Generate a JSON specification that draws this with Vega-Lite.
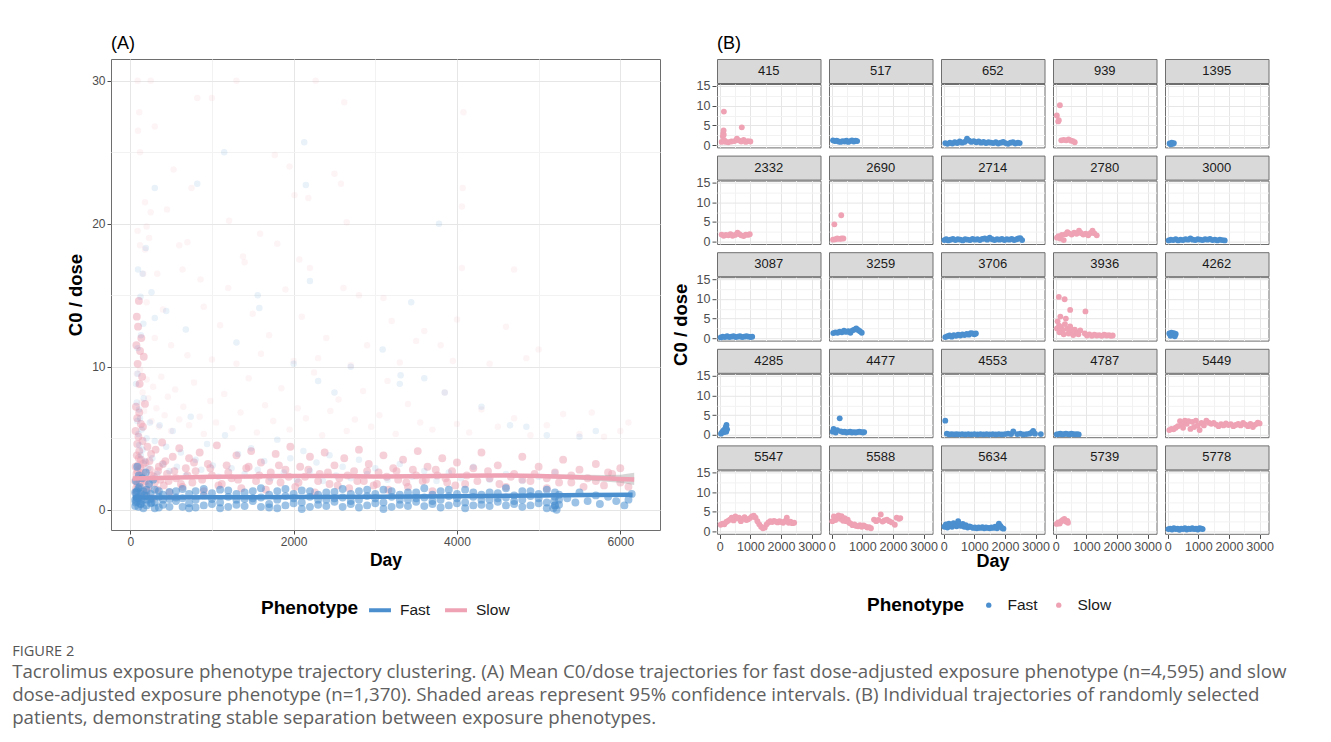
{
  "$schema": "https://vega.github.io/schema/vega-lite/v6.json",
  "background": "white",
  "padding": {"left": 12, "top": 34, "right": 5, "bottom": 5},
  "title": {
    "text": "FIGURE 2",
    "subtitle": [
      "Tacrolimus exposure phenotype trajectory clustering. (A) Mean C0/dose trajectories for fast dose-adjusted exposure phenotype (n=4,595) and slow",
      "dose-adjusted exposure phenotype (n=1,370). Shaded areas represent 95% confidence intervals. (B) Individual trajectories of randomly selected",
      "patients, demonstrating stable separation between exposure phenotypes."
    ],
    "orient": "bottom",
    "anchor": "start",
    "frame": "bounds",
    "dx": -54,
    "offset": 24,
    "font": "Open Sans",
    "fontSize": 14.6,
    "fontWeight": "normal",
    "color": "#555555",
    "subtitleFont": "Open Sans",
    "subtitleFontSize": 18.7,
    "subtitleColor": "#606060",
    "subtitleLineHeight": 23,
    "subtitlePadding": 5
  },
  "datasets": {
    "slowSparseA": [
      {"day":90,"c0dose":30},{"day":250,"c0dose":30},{"day":1300,"c0dose":30},{"day":2270,"c0dose":30},{"day":110,"c0dose":27.8},{"day":95,"c0dose":26.5},{"day":300,"c0dose":26.8},{"day":120,"c0dose":25},{"day":2620,"c0dose":28.5},{"day":820,"c0dose":28.8},{"day":1000,"c0dose":28.8},{"day":4080,"c0dose":27.8},{"day":1770,"c0dose":24.8},{"day":1950,"c0dose":24},{"day":2500,"c0dose":23.5},{"day":530,"c0dose":23.8},{"day":750,"c0dose":22.5},{"day":2580,"c0dose":22.8},{"day":4070,"c0dose":22.5},{"day":2010,"c0dose":22},{"day":2180,"c0dose":21.8},{"day":4060,"c0dose":21.2},{"day":180,"c0dose":21.5},{"day":250,"c0dose":20.8},{"day":450,"c0dose":21},{"day":1210,"c0dose":20.2},{"day":90,"c0dose":19.5},{"day":200,"c0dose":19.8},{"day":2650,"c0dose":20.1},{"day":1590,"c0dose":19.3},{"day":230,"c0dose":19},{"day":600,"c0dose":18.5},{"day":120,"c0dose":18.5},{"day":180,"c0dose":18.2},{"day":700,"c0dose":18.7},{"day":1800,"c0dose":18.6},{"day":1380,"c0dose":17.7},{"day":2070,"c0dose":17.5},{"day":1400,"c0dose":17.3},{"day":2200,"c0dose":16.9},{"day":4060,"c0dose":16.9},{"day":4700,"c0dose":16.8},{"day":160,"c0dose":16.5},{"day":330,"c0dose":16.5},{"day":640,"c0dose":16.8},{"day":860,"c0dose":16.1},{"day":2610,"c0dose":15.5},{"day":1200,"c0dose":15.5},{"day":1900,"c0dose":15.4},{"day":2800,"c0dose":15},{"day":3100,"c0dose":14.8},{"day":3200,"c0dose":13.2},{"day":200,"c0dose":14.5},{"day":400,"c0dose":14},{"day":900,"c0dose":14.2},{"day":1500,"c0dose":13.7},{"day":2100,"c0dose":13.5},{"day":3600,"c0dose":12.5},{"day":3500,"c0dose":11.8},{"day":4000,"c0dose":13.3},{"day":4600,"c0dose":12.8},{"day":1100,"c0dose":12.9},{"day":1700,"c0dose":12.2},{"day":2400,"c0dose":12},{"day":2900,"c0dose":11.5},{"day":3800,"c0dose":11.5},{"day":5000,"c0dose":11.2},{"day":300,"c0dose":12},{"day":500,"c0dose":11.5},{"day":700,"c0dose":10.8},{"day":1000,"c0dose":10.5},{"day":1300,"c0dose":10.2},{"day":1600,"c0dose":10.9},{"day":2000,"c0dose":10.4},{"day":2300,"c0dose":10.6},{"day":2700,"c0dose":10.1},{"day":3300,"c0dose":10.3},{"day":3950,"c0dose":10.4},{"day":4400,"c0dose":10.2},{"day":4850,"c0dose":10.6},
      {"day":80,"c0dose":9.5},{"day":100,"c0dose":8.7},{"day":120,"c0dose":9.8},{"day":140,"c0dose":7.5},{"day":150,"c0dose":8.2},{"day":170,"c0dose":6.9},{"day":200,"c0dose":9.1},{"day":220,"c0dose":7.8},{"day":260,"c0dose":6.2},{"day":280,"c0dose":8.6},{"day":320,"c0dose":7.1},{"day":350,"c0dose":5.8},{"day":380,"c0dose":9.3},{"day":420,"c0dose":6.6},{"day":460,"c0dose":7.9},{"day":500,"c0dose":5.5},{"day":550,"c0dose":8.4},{"day":600,"c0dose":6.3},{"day":650,"c0dose":7.2},{"day":720,"c0dose":5.9},{"day":780,"c0dose":8.9},{"day":850,"c0dose":6.5},{"day":900,"c0dose":5.3},{"day":980,"c0dose":7.6},{"day":1050,"c0dose":6.1},{"day":1150,"c0dose":8.1},{"day":1250,"c0dose":5.7},{"day":1350,"c0dose":6.8},{"day":1450,"c0dose":9.2},{"day":1550,"c0dose":5.4},{"day":1650,"c0dose":7.3},{"day":1750,"c0dose":6.2},{"day":1850,"c0dose":8.5},{"day":1950,"c0dose":5.6},{"day":2050,"c0dose":7.1},{"day":2150,"c0dose":6.4},{"day":2250,"c0dose":9.6},{"day":2350,"c0dose":5.2},{"day":2450,"c0dose":6.9},{"day":2550,"c0dose":7.7},{"day":2650,"c0dose":5.5},{"day":2750,"c0dose":6.3},{"day":2850,"c0dose":8.3},{"day":2950,"c0dose":5.8},{"day":3050,"c0dose":6.6},{"day":3150,"c0dose":9},{"day":3250,"c0dose":5.3},{"day":3400,"c0dose":7.4},{"day":3550,"c0dose":6.1},{"day":3700,"c0dose":5.6},{"day":3850,"c0dose":8.2},{"day":4000,"c0dose":6},{"day":4150,"c0dose":5.4},{"day":4300,"c0dose":7},{"day":4500,"c0dose":5.8},{"day":4700,"c0dose":6.4},{"day":4900,"c0dose":5.2},{"day":5100,"c0dose":5.9},{"day":5300,"c0dose":6.7},{"day":5500,"c0dose":5.3},{"day":5650,"c0dose":6.8},{"day":5800,"c0dose":5.1},{"day":6000,"c0dose":5.5},{"day":6100,"c0dose":6.1}
    ],
    "slowDenseA": [
      {"day":65,"c0dose":5.5},{"day":70,"c0dose":7.2},{"day":75,"c0dose":11.5},{"day":80,"c0dose":13.5},{"day":85,"c0dose":6.4},{"day":90,"c0dose":10.2},{"day":95,"c0dose":12.8},{"day":100,"c0dose":5.1},{"day":105,"c0dose":14.6},{"day":110,"c0dose":6.8},{"day":115,"c0dose":8.8},{"day":120,"c0dose":11.1},{"day":130,"c0dose":6.0},{"day":135,"c0dose":12.0},{"day":145,"c0dose":9.3},{"day":155,"c0dose":5.8},{"day":165,"c0dose":10.7},{"day":180,"c0dose":7.4},
      {"day":70,"c0dose":1.2},{"day":75,"c0dose":2.5},{"day":80,"c0dose":3.8},{"day":85,"c0dose":4.6},{"day":90,"c0dose":1.8},{"day":95,"c0dose":3.1},{"day":100,"c0dose":2.2},{"day":110,"c0dose":4.1},{"day":115,"c0dose":0.9},{"day":125,"c0dose":2.9},{"day":130,"c0dose":3.5},{"day":140,"c0dose":1.5},{"day":150,"c0dose":4.8},{"day":160,"c0dose":2.6},{"day":175,"c0dose":1.1},{"day":185,"c0dose":3.3},{"day":195,"c0dose":2.0},{"day":210,"c0dose":4.4},{"day":225,"c0dose":1.6},{"day":240,"c0dose":2.8},{"day":255,"c0dose":3.9},{"day":270,"c0dose":0.8},{"day":290,"c0dose":2.3},{"day":310,"c0dose":4.2},{"day":330,"c0dose":1.4},{"day":350,"c0dose":3.0},{"day":370,"c0dose":2.1},{"day":390,"c0dose":4.7},{"day":410,"c0dose":1.7},{"day":430,"c0dose":3.4},{"day":450,"c0dose":2.5},{"day":480,"c0dose":1.2},{"day":520,"c0dose":3.7},{"day":560,"c0dose":2.2},{"day":600,"c0dose":4.3},{"day":640,"c0dose":1.6},{"day":680,"c0dose":2.9},{"day":720,"c0dose":3.6},{"day":760,"c0dose":1.9},{"day":800,"c0dose":2.7},{"day":850,"c0dose":4.0},{"day":900,"c0dose":1.3},{"day":950,"c0dose":3.2},{"day":1000,"c0dose":2.4},{"day":1060,"c0dose":4.5},{"day":1120,"c0dose":1.8},{"day":1180,"c0dose":3.1},{"day":1240,"c0dose":2.2},{"day":1300,"c0dose":3.8},{"day":1360,"c0dose":1.5},{"day":1420,"c0dose":2.9},{"day":1480,"c0dose":4.1},{"day":1540,"c0dose":2.0},{"day":1600,"c0dose":3.3},{"day":1660,"c0dose":1.4},{"day":1720,"c0dose":2.6},{"day":1780,"c0dose":3.9},{"day":1840,"c0dose":1.9},{"day":1900,"c0dose":2.8},{"day":1960,"c0dose":4.4},{"day":2020,"c0dose":1.6},{"day":2080,"c0dose":3.0},{"day":2140,"c0dose":2.3},{"day":2200,"c0dose":3.7},{"day":2260,"c0dose":1.2},{"day":2320,"c0dose":2.5},{"day":2380,"c0dose":4.0},{"day":2440,"c0dose":1.8},{"day":2500,"c0dose":3.1},{"day":2560,"c0dose":2.2},{"day":2620,"c0dose":3.6},{"day":2680,"c0dose":1.5},{"day":2740,"c0dose":2.7},{"day":2800,"c0dose":4.2},{"day":2860,"c0dose":2.0},{"day":2920,"c0dose":3.2},{"day":2980,"c0dose":1.7},{"day":3040,"c0dose":2.6},{"day":3100,"c0dose":3.8},{"day":3160,"c0dose":1.4},{"day":3220,"c0dose":2.9},{"day":3280,"c0dose":2.1},{"day":3340,"c0dose":3.5},{"day":3400,"c0dose":1.6},{"day":3460,"c0dose":2.8},{"day":3520,"c0dose":4.1},{"day":3580,"c0dose":2.0},{"day":3640,"c0dose":3.0},{"day":3700,"c0dose":1.3},{"day":3760,"c0dose":2.4},{"day":3820,"c0dose":3.6},{"day":3880,"c0dose":1.9},{"day":3940,"c0dose":2.7},{"day":4000,"c0dose":3.3},{"day":4100,"c0dose":1.8},{"day":4200,"c0dose":2.9},{"day":4300,"c0dose":4.0},{"day":4400,"c0dose":2.2},{"day":4500,"c0dose":3.1},{"day":4600,"c0dose":1.6},{"day":4700,"c0dose":2.5},{"day":4800,"c0dose":3.7},{"day":4900,"c0dose":2.0},{"day":5000,"c0dose":3.0},{"day":5100,"c0dose":1.5},{"day":5200,"c0dose":2.6},{"day":5300,"c0dose":3.5},{"day":5400,"c0dose":1.9},{"day":5500,"c0dose":2.8},{"day":5600,"c0dose":2.2},{"day":5700,"c0dose":3.2},{"day":5800,"c0dose":1.7},{"day":5900,"c0dose":2.5},{"day":6000,"c0dose":2.9},{"day":6100,"c0dose":1.6},
      {"day":60,"c0dose":2.0},{"day":65,"c0dose":3.0},{"day":72,"c0dose":1.5},{"day":88,"c0dose":2.7},{"day":105,"c0dose":3.6},{"day":118,"c0dose":1.9},{"day":135,"c0dose":2.4},{"day":158,"c0dose":3.2},{"day":178,"c0dose":2.0},{"day":205,"c0dose":1.3},{"day":235,"c0dose":3.4},{"day":262,"c0dose":2.4},{"day":300,"c0dose":1.9},{"day":340,"c0dose":2.7},{"day":400,"c0dose":3.2},{"day":470,"c0dose":2.0},{"day":540,"c0dose":2.7},{"day":620,"c0dose":1.8},{"day":700,"c0dose":2.4},{"day":780,"c0dose":3.3},{"day":880,"c0dose":2.1},{"day":980,"c0dose":2.9},{"day":1080,"c0dose":1.7},{"day":1200,"c0dose":2.6},{"day":1320,"c0dose":2.1},{"day":1450,"c0dose":3.0},{"day":1580,"c0dose":2.4},{"day":1700,"c0dose":2.0},{"day":1820,"c0dose":3.1},{"day":1940,"c0dose":2.3},{"day":2060,"c0dose":1.9},{"day":2180,"c0dose":2.8},{"day":2300,"c0dose":2.0},{"day":2420,"c0dose":2.6},{"day":2540,"c0dose":1.7},{"day":2660,"c0dose":2.4},{"day":2780,"c0dose":2.0},{"day":2900,"c0dose":2.7},{"day":3020,"c0dose":1.8},{"day":3140,"c0dose":2.3},{"day":3260,"c0dose":2.7},{"day":3380,"c0dose":1.9},{"day":3500,"c0dose":2.4},{"day":3620,"c0dose":2.1},{"day":3740,"c0dose":2.8},{"day":3860,"c0dose":2.2},{"day":3980,"c0dose":1.7},{"day":4120,"c0dose":2.4},{"day":4250,"c0dose":2.0},{"day":4380,"c0dose":2.7},{"day":4520,"c0dose":1.8},{"day":4660,"c0dose":2.3},{"day":4800,"c0dose":2.1},{"day":4950,"c0dose":2.5},{"day":5100,"c0dose":2.2},{"day":5250,"c0dose":1.9},{"day":5400,"c0dose":2.4},{"day":5550,"c0dose":1.6},{"day":5700,"c0dose":2.0},{"day":5850,"c0dose":2.6},{"day":6000,"c0dose":1.9}
    ],
    "fastSparseA": [
      {"day":190,"c0dose":18.3},{"day":300,"c0dose":22.5},{"day":820,"c0dose":22.8},{"day":1150,"c0dose":25},{"day":2130,"c0dose":25.7},{"day":2150,"c0dose":22.7},{"day":3780,"c0dose":20},{"day":2200,"c0dose":16},{"day":95,"c0dose":16.8},{"day":125,"c0dose":14.9},{"day":150,"c0dose":16.5},{"day":260,"c0dose":15.2},{"day":1560,"c0dose":15},{"day":1580,"c0dose":14.1},{"day":3440,"c0dose":14.5},{"day":300,"c0dose":13.4},{"day":160,"c0dose":13.0},{"day":440,"c0dose":13.9},{"day":90,"c0dose":11.3},{"day":130,"c0dose":12.2},{"day":680,"c0dose":12.6},{"day":1300,"c0dose":11.7},{"day":3090,"c0dose":11.2},{"day":3310,"c0dose":9.4},{"day":2000,"c0dose":10.2},{"day":2300,"c0dose":9.0},{"day":2500,"c0dose":8.2},{"day":2700,"c0dose":10.0},{"day":3300,"c0dose":8.8},{"day":3600,"c0dose":9.2},{"day":3850,"c0dose":8.2},{"day":4300,"c0dose":7.2},{"day":4650,"c0dose":5.9},{"day":4850,"c0dose":5.8},{"day":5100,"c0dose":5.2},{"day":5500,"c0dose":5.1},{"day":5700,"c0dose":5.5},
      {"day":70,"c0dose":8.8},{"day":80,"c0dose":7.5},{"day":85,"c0dose":6.2},{"day":90,"c0dose":9.5},{"day":100,"c0dose":5.3},{"day":105,"c0dose":7.0},{"day":110,"c0dose":4.5},{"day":120,"c0dose":6.4},{"day":130,"c0dose":3.8},{"day":140,"c0dose":5.6},{"day":150,"c0dose":4.2},{"day":165,"c0dose":7.8},{"day":180,"c0dose":3.4},{"day":200,"c0dose":5.0},{"day":220,"c0dose":2.9},{"day":240,"c0dose":6.1},{"day":270,"c0dose":3.6},{"day":300,"c0dose":4.8},{"day":330,"c0dose":2.5},{"day":360,"c0dose":5.9},{"day":400,"c0dose":3.2},{"day":440,"c0dose":4.4},{"day":480,"c0dose":2.7},{"day":520,"c0dose":5.5},{"day":570,"c0dose":3.0},{"day":620,"c0dose":4.0},{"day":680,"c0dose":2.4},{"day":740,"c0dose":6.5},{"day":800,"c0dose":3.5},{"day":870,"c0dose":2.8},{"day":940,"c0dose":4.6},{"day":1010,"c0dose":3.1},{"day":1080,"c0dose":2.3},{"day":1160,"c0dose":5.2},{"day":1240,"c0dose":2.9},{"day":1320,"c0dose":3.9},{"day":1400,"c0dose":2.5},{"day":1480,"c0dose":4.3},{"day":1560,"c0dose":2.8},{"day":1640,"c0dose":3.4},{"day":1720,"c0dose":2.2},{"day":1800,"c0dose":4.9},{"day":1880,"c0dose":2.6},{"day":1960,"c0dose":3.6},{"day":2040,"c0dose":2.1},{"day":2120,"c0dose":4.1},{"day":2200,"c0dose":2.7},{"day":2280,"c0dose":3.3},{"day":2360,"c0dose":2.0},{"day":2440,"c0dose":3.8},{"day":2520,"c0dose":2.4},{"day":2600,"c0dose":3.0},{"day":2700,"c0dose":2.2},{"day":2800,"c0dose":3.5},{"day":2900,"c0dose":2.5},{"day":3000,"c0dose":2.9},{"day":3150,"c0dose":2.1},{"day":3300,"c0dose":3.2},{"day":3450,"c0dose":2.3},{"day":3600,"c0dose":2.7},{"day":3750,"c0dose":2.0},{"day":3900,"c0dose":2.6},{"day":4050,"c0dose":2.2},{"day":4200,"c0dose":3.0},{"day":4400,"c0dose":2.1},{"day":4600,"c0dose":2.5},{"day":4800,"c0dose":2.0},{"day":5000,"c0dose":2.3},{"day":5200,"c0dose":2.6}
    ],
    "fastDenseA": [
      {"day":60,"c0dose":0.25},{"day":60,"c0dose":1.2},{"day":60,"c0dose":0.7},{"day":80,"c0dose":0.55},{"day":80,"c0dose":0.8},{"day":80,"c0dose":1.3},{"day":100,"c0dose":0.85},{"day":100,"c0dose":1.5},{"day":100,"c0dose":0.2},{"day":130,"c0dose":0.4},{"day":130,"c0dose":0.6},{"day":130,"c0dose":1.1},{"day":160,"c0dose":0.7},{"day":160,"c0dose":1.3},{"day":160,"c0dose":0.1},{"day":200,"c0dose":0.3},{"day":200,"c0dose":0.95},{"day":200,"c0dose":1.4},{"day":250,"c0dose":1.1},{"day":250,"c0dose":0.45},{"day":250,"c0dose":0.75},{"day":300,"c0dose":0.5},{"day":300,"c0dose":1.4},{"day":300,"c0dose":0.1},{"day":350,"c0dose":0.9},{"day":350,"c0dose":0.15},{"day":350,"c0dose":1.3},{"day":400,"c0dose":0.35},{"day":400,"c0dose":1.05},{"day":400,"c0dose":0.7},{"day":480,"c0dose":0.2},{"day":480,"c0dose":1.25},{"day":480,"c0dose":0.75},{"day":560,"c0dose":0.6},{"day":560,"c0dose":0.85},{"day":560,"c0dose":1.3},{"day":640,"c0dose":0.8},{"day":640,"c0dose":1.45},{"day":640,"c0dose":0.2},{"day":720,"c0dose":0.45},{"day":720,"c0dose":0.1},{"day":720,"c0dose":1.1},{"day":800,"c0dose":0.7},{"day":800,"c0dose":1.3},{"day":800,"c0dose":0.15},{"day":900,"c0dose":0.3},{"day":900,"c0dose":1.0},{"day":900,"c0dose":1.45},{"day":1000,"c0dose":1.15},{"day":1000,"c0dose":0.4},{"day":1000,"c0dose":0.75},{"day":1100,"c0dose":0.5},{"day":1100,"c0dose":1.4},{"day":1100,"c0dose":0.1},{"day":1200,"c0dose":0.9},{"day":1200,"c0dose":0.2},{"day":1200,"c0dose":1.35},{"day":1300,"c0dose":0.35},{"day":1300,"c0dose":1.1},{"day":1300,"c0dose":0.7},{"day":1400,"c0dose":0.25},{"day":1400,"c0dose":1.2},{"day":1400,"c0dose":0.75},{"day":1500,"c0dose":0.6},{"day":1500,"c0dose":0.8},{"day":1500,"c0dose":1.3},{"day":1600,"c0dose":0.85},{"day":1600,"c0dose":1.5},{"day":1600,"c0dose":0.2},{"day":1700,"c0dose":0.4},{"day":1700,"c0dose":0.15},{"day":1700,"c0dose":1.05},{"day":1800,"c0dose":0.7},{"day":1800,"c0dose":1.3},{"day":1800,"c0dose":0.1},{"day":1900,"c0dose":0.3},{"day":1900,"c0dose":0.95},{"day":1900,"c0dose":1.45},{"day":2000,"c0dose":1.1},{"day":2000,"c0dose":0.45},{"day":2000,"c0dose":0.8},{"day":2100,"c0dose":0.5},{"day":2100,"c0dose":1.35},{"day":2100,"c0dose":0.05},{"day":2200,"c0dose":0.9},{"day":2200,"c0dose":0.2},{"day":2200,"c0dose":1.3},{"day":2300,"c0dose":0.35},{"day":2300,"c0dose":1.05},{"day":2300,"c0dose":0.7},{"day":2400,"c0dose":0.25},{"day":2400,"c0dose":1.2},{"day":2400,"c0dose":0.7},{"day":2500,"c0dose":0.55},{"day":2500,"c0dose":0.8},{"day":2500,"c0dose":1.25},{"day":2600,"c0dose":0.85},{"day":2600,"c0dose":1.45},{"day":2600,"c0dose":0.2},{"day":2700,"c0dose":0.4},{"day":2700,"c0dose":0.6},{"day":2700,"c0dose":1.1},{"day":2800,"c0dose":0.7},{"day":2800,"c0dose":1.3},{"day":2800,"c0dose":0.15},{"day":2900,"c0dose":0.3},{"day":2900,"c0dose":0.95},{"day":2900,"c0dose":1.4},{"day":3000,"c0dose":1.1},{"day":3000,"c0dose":0.45},{"day":3000,"c0dose":0.8},{"day":3100,"c0dose":0.5},{"day":3100,"c0dose":1.4},{"day":3100,"c0dose":0.05},{"day":3200,"c0dose":0.9},{"day":3200,"c0dose":0.2},{"day":3200,"c0dose":1.3},{"day":3300,"c0dose":0.35},{"day":3300,"c0dose":1.05},{"day":3300,"c0dose":0.7},{"day":3400,"c0dose":0.25},{"day":3400,"c0dose":1.2},{"day":3400,"c0dose":0.7},{"day":3500,"c0dose":0.55},{"day":3500,"c0dose":0.8},{"day":3500,"c0dose":1.2},{"day":3600,"c0dose":0.85},{"day":3600,"c0dose":1.5},{"day":3600,"c0dose":0.25},{"day":3700,"c0dose":0.4},{"day":3700,"c0dose":0.6},{"day":3700,"c0dose":1.05},{"day":3800,"c0dose":0.7},{"day":3800,"c0dose":1.3},{"day":3800,"c0dose":0.15},{"day":3900,"c0dose":0.3},{"day":3900,"c0dose":0.95},{"day":3900,"c0dose":1.4},{"day":4000,"c0dose":1.1},{"day":4000,"c0dose":0.45},{"day":4000,"c0dose":0.8},{"day":4100,"c0dose":0.5},{"day":4100,"c0dose":1.4},{"day":4100,"c0dose":0.1},{"day":4200,"c0dose":0.9},{"day":4200,"c0dose":0.3},{"day":4200,"c0dose":1.2},{"day":4300,"c0dose":0.35},{"day":4300,"c0dose":1.05},{"day":4300,"c0dose":0.7},{"day":4400,"c0dose":0.25},{"day":4400,"c0dose":1.2},{"day":4400,"c0dose":0.7},{"day":4500,"c0dose":0.55},{"day":4500,"c0dose":0.8},{"day":4500,"c0dose":1.15},{"day":4600,"c0dose":0.85},{"day":4600,"c0dose":1.5},{"day":4600,"c0dose":0.3},{"day":4700,"c0dose":0.4},{"day":4700,"c0dose":0.6},{"day":4700,"c0dose":1.0},{"day":4800,"c0dose":0.7},{"day":4800,"c0dose":1.3},{"day":4800,"c0dose":0.2},{"day":4900,"c0dose":0.3},{"day":4900,"c0dose":0.95},{"day":4900,"c0dose":1.3},{"day":5000,"c0dose":1.1},{"day":5000,"c0dose":0.45},{"day":5000,"c0dose":0.8},{"day":5100,"c0dose":0.5},{"day":5100,"c0dose":1.4},{"day":5100,"c0dose":0.1},{"day":5200,"c0dose":0.9},{"day":5200,"c0dose":0.3},{"day":5200,"c0dose":1.2},{"day":5250,"c0dose":0.35},{"day":5250,"c0dose":1.05},{"day":5250,"c0dose":0.7},
      {"day":5350,"c0dose":0.8},{"day":5450,"c0dose":0.5},{"day":5500,"c0dose":1.2},{"day":5600,"c0dose":0.6},{"day":5700,"c0dose":1.0},{"day":5750,"c0dose":0.4},{"day":5850,"c0dose":0.9},{"day":5950,"c0dose":0.6},{"day":6050,"c0dose":0.3},{"day":6100,"c0dose":0.7},{"day":6140,"c0dose":1.1},{"day":5180,"c0dose":0.1},{"day":5200,"c0dose":0.3},{"day":5220,"c0dose":0.0},{"day":5190,"c0dose":0.6},
      {"day":65,"c0dose":0.5},{"day":70,"c0dose":2.0},{"day":75,"c0dose":1.2},{"day":85,"c0dose":3.0},{"day":95,"c0dose":0.8},{"day":105,"c0dose":2.4},{"day":115,"c0dose":1.6},{"day":125,"c0dose":0.4},{"day":145,"c0dose":2.2},{"day":170,"c0dose":1.0},{"day":190,"c0dose":2.6},{"day":210,"c0dose":0.7},{"day":230,"c0dose":1.8},{"day":260,"c0dose":0.5},{"day":280,"c0dose":2.1}
    ],
    "smoothA": [
      {"phenotype":"Slow","day":30,"fit":2.18,"lo":2.06,"hi":2.3},
      {"phenotype":"Slow","day":300,"fit":2.22,"lo":2.14,"hi":2.3},
      {"phenotype":"Slow","day":600,"fit":2.26,"lo":2.2,"hi":2.32},
      {"phenotype":"Slow","day":1000,"fit":2.3,"lo":2.24,"hi":2.36},
      {"phenotype":"Slow","day":1500,"fit":2.33,"lo":2.27,"hi":2.39},
      {"phenotype":"Slow","day":2000,"fit":2.36,"lo":2.3,"hi":2.42},
      {"phenotype":"Slow","day":2500,"fit":2.35,"lo":2.29,"hi":2.41},
      {"phenotype":"Slow","day":3000,"fit":2.32,"lo":2.26,"hi":2.38},
      {"phenotype":"Slow","day":3500,"fit":2.34,"lo":2.27,"hi":2.41},
      {"phenotype":"Slow","day":4000,"fit":2.38,"lo":2.3,"hi":2.46},
      {"phenotype":"Slow","day":4500,"fit":2.4,"lo":2.3,"hi":2.5},
      {"phenotype":"Slow","day":5000,"fit":2.36,"lo":2.24,"hi":2.48},
      {"phenotype":"Slow","day":5500,"fit":2.27,"lo":2.1,"hi":2.44},
      {"phenotype":"Slow","day":5800,"fit":2.2,"lo":1.98,"hi":2.42},
      {"phenotype":"Slow","day":6000,"fit":2.15,"lo":1.88,"hi":2.45},
      {"phenotype":"Slow","day":6170,"fit":2.12,"lo":1.72,"hi":2.58},
      {"phenotype":"Fast","day":30,"fit":0.86,"lo":0.82,"hi":0.9},
      {"phenotype":"Fast","day":1000,"fit":0.87,"lo":0.84,"hi":0.9},
      {"phenotype":"Fast","day":2000,"fit":0.88,"lo":0.85,"hi":0.91},
      {"phenotype":"Fast","day":3000,"fit":0.9,"lo":0.87,"hi":0.93},
      {"phenotype":"Fast","day":4000,"fit":0.94,"lo":0.9,"hi":0.98},
      {"phenotype":"Fast","day":5000,"fit":1.0,"lo":0.95,"hi":1.05},
      {"phenotype":"Fast","day":5600,"fit":1.03,"lo":0.96,"hi":1.1},
      {"phenotype":"Fast","day":6150,"fit":1.05,"lo":0.95,"hi":1.15}
    ],
    "phenotypes": [
      {"patient":415,"phenotype":"Slow"},{"patient":517,"phenotype":"Fast"},{"patient":652,"phenotype":"Fast"},{"patient":939,"phenotype":"Slow"},{"patient":1395,"phenotype":"Fast"},
      {"patient":2332,"phenotype":"Slow"},{"patient":2690,"phenotype":"Slow"},{"patient":2714,"phenotype":"Fast"},{"patient":2780,"phenotype":"Slow"},{"patient":3000,"phenotype":"Fast"},
      {"patient":3087,"phenotype":"Fast"},{"patient":3259,"phenotype":"Fast"},{"patient":3706,"phenotype":"Fast"},{"patient":3936,"phenotype":"Slow"},{"patient":4262,"phenotype":"Fast"},
      {"patient":4285,"phenotype":"Fast"},{"patient":4477,"phenotype":"Fast"},{"patient":4553,"phenotype":"Fast"},{"patient":4787,"phenotype":"Fast"},{"patient":5449,"phenotype":"Slow"},
      {"patient":5547,"phenotype":"Slow"},{"patient":5588,"phenotype":"Slow"},{"patient":5634,"phenotype":"Fast"},{"patient":5739,"phenotype":"Slow"},{"patient":5778,"phenotype":"Fast"}
    ],
    "pointsB": [
      {"patient":415,"day":60,"c0dose":0.8},{"patient":415,"day":100,"c0dose":2.2},{"patient":415,"day":115,"c0dose":3.0},{"patient":415,"day":125,"c0dose":3.7},{"patient":415,"day":130,"c0dose":2.6},{"patient":415,"day":135,"c0dose":8.5},{"patient":415,"day":150,"c0dose":1.2},{"patient":415,"day":200,"c0dose":0.8},{"patient":415,"day":280,"c0dose":0.7},{"patient":415,"day":380,"c0dose":0.9},{"patient":415,"day":480,"c0dose":1.0},{"patient":415,"day":560,"c0dose":1.6},{"patient":415,"day":620,"c0dose":1.2},{"patient":415,"day":720,"c0dose":4.5},{"patient":415,"day":700,"c0dose":0.9},{"patient":415,"day":780,"c0dose":1.3},{"patient":415,"day":850,"c0dose":0.8},{"patient":415,"day":920,"c0dose":1.0},{"patient":415,"day":1000,"c0dose":0.9},
      {"patient":517,"day":40,"c0dose":1.2},{"patient":517,"day":100,"c0dose":1.0},{"patient":517,"day":160,"c0dose":1.1},{"patient":517,"day":220,"c0dose":0.9},{"patient":517,"day":290,"c0dose":0.8},{"patient":517,"day":350,"c0dose":1.0},{"patient":517,"day":420,"c0dose":0.9},{"patient":517,"day":480,"c0dose":1.1},{"patient":517,"day":540,"c0dose":0.8},{"patient":517,"day":600,"c0dose":1.0},{"patient":517,"day":660,"c0dose":1.2},{"patient":517,"day":720,"c0dose":0.9},{"patient":517,"day":780,"c0dose":1.1},{"patient":517,"day":830,"c0dose":1.0},
      {"patient":652,"day":50,"c0dose":0.5},{"patient":652,"day":120,"c0dose":0.3},{"patient":652,"day":200,"c0dose":0.6},{"patient":652,"day":280,"c0dose":0.4},{"patient":652,"day":360,"c0dose":0.7},{"patient":652,"day":440,"c0dose":0.5},{"patient":652,"day":520,"c0dose":0.9},{"patient":652,"day":600,"c0dose":0.6},{"patient":652,"day":680,"c0dose":0.8},{"patient":652,"day":760,"c0dose":1.6},{"patient":652,"day":830,"c0dose":1.1},{"patient":652,"day":900,"c0dose":0.8},{"patient":652,"day":980,"c0dose":1.0},{"patient":652,"day":1060,"c0dose":0.7},{"patient":652,"day":1140,"c0dose":0.9},{"patient":652,"day":1220,"c0dose":0.6},{"patient":652,"day":1300,"c0dose":0.8},{"patient":652,"day":1380,"c0dose":0.5},{"patient":652,"day":1460,"c0dose":0.7},{"patient":652,"day":1540,"c0dose":0.6},{"patient":652,"day":1620,"c0dose":0.5},{"patient":652,"day":1700,"c0dose":0.7},{"patient":652,"day":1780,"c0dose":0.4},{"patient":652,"day":1860,"c0dose":0.6},{"patient":652,"day":1940,"c0dose":0.8},{"patient":652,"day":2020,"c0dose":0.5},{"patient":652,"day":2100,"c0dose":0.3},{"patient":652,"day":2180,"c0dose":0.6},{"patient":652,"day":2260,"c0dose":0.7},{"patient":652,"day":2340,"c0dose":0.4},{"patient":652,"day":2420,"c0dose":0.6},{"patient":652,"day":2480,"c0dose":0.5},
      {"patient":939,"day":35,"c0dose":7.5},{"patient":939,"day":80,"c0dose":6.0},{"patient":939,"day":100,"c0dose":6.3},{"patient":939,"day":135,"c0dose":10.1},{"patient":939,"day":180,"c0dose":1.2},{"patient":939,"day":260,"c0dose":1.3},{"patient":939,"day":340,"c0dose":1.2},{"patient":939,"day":420,"c0dose":1.4},{"patient":939,"day":500,"c0dose":1.1},{"patient":939,"day":560,"c0dose":1.0},{"patient":939,"day":620,"c0dose":0.7},
      {"patient":1395,"day":60,"c0dose":0.4},{"patient":1395,"day":100,"c0dose":0.2},{"patient":1395,"day":130,"c0dose":0.6},{"patient":1395,"day":170,"c0dose":0.3},{"patient":1395,"day":200,"c0dose":0.5},
      {"patient":2332,"day":60,"c0dose":1.8},{"patient":2332,"day":130,"c0dose":1.5},{"patient":2332,"day":200,"c0dose":1.7},{"patient":2332,"day":280,"c0dose":1.6},{"patient":2332,"day":350,"c0dose":1.9},{"patient":2332,"day":420,"c0dose":1.5},{"patient":2332,"day":500,"c0dose":1.7},{"patient":2332,"day":580,"c0dose":2.3},{"patient":2332,"day":640,"c0dose":1.9},{"patient":2332,"day":700,"c0dose":1.6},{"patient":2332,"day":780,"c0dose":1.4},{"patient":2332,"day":850,"c0dose":1.8},{"patient":2332,"day":920,"c0dose":1.7},{"patient":2332,"day":980,"c0dose":1.9},
      {"patient":2690,"day":40,"c0dose":0.5},{"patient":2690,"day":85,"c0dose":4.4},{"patient":2690,"day":120,"c0dose":0.6},{"patient":2690,"day":180,"c0dose":0.8},{"patient":2690,"day":310,"c0dose":6.7},{"patient":2690,"day":260,"c0dose":0.7},{"patient":2690,"day":320,"c0dose":0.8},{"patient":2690,"day":380,"c0dose":0.8},
      {"patient":2714,"day":20,"c0dose":0.4},{"patient":2714,"day":80,"c0dose":0.6},{"patient":2714,"day":150,"c0dose":0.3},{"patient":2714,"day":220,"c0dose":0.5},{"patient":2714,"day":300,"c0dose":0.7},{"patient":2714,"day":380,"c0dose":0.4},{"patient":2714,"day":460,"c0dose":0.6},{"patient":2714,"day":540,"c0dose":0.5},{"patient":2714,"day":620,"c0dose":0.3},{"patient":2714,"day":700,"c0dose":0.6},{"patient":2714,"day":780,"c0dose":0.5},{"patient":2714,"day":860,"c0dose":0.4},{"patient":2714,"day":940,"c0dose":0.7},{"patient":2714,"day":1020,"c0dose":0.5},{"patient":2714,"day":1100,"c0dose":0.6},{"patient":2714,"day":1180,"c0dose":0.4},{"patient":2714,"day":1260,"c0dose":0.7},{"patient":2714,"day":1340,"c0dose":0.8},{"patient":2714,"day":1420,"c0dose":0.5},{"patient":2714,"day":1500,"c0dose":1.0},{"patient":2714,"day":1580,"c0dose":0.6},{"patient":2714,"day":1660,"c0dose":0.4},{"patient":2714,"day":1740,"c0dose":0.6},{"patient":2714,"day":1820,"c0dose":0.5},{"patient":2714,"day":1900,"c0dose":0.7},{"patient":2714,"day":1980,"c0dose":0.4},{"patient":2714,"day":2060,"c0dose":0.6},{"patient":2714,"day":2140,"c0dose":0.5},{"patient":2714,"day":2220,"c0dose":0.7},{"patient":2714,"day":2300,"c0dose":0.4},{"patient":2714,"day":2380,"c0dose":0.6},{"patient":2714,"day":2440,"c0dose":0.8},{"patient":2714,"day":2500,"c0dose":0.9},{"patient":2714,"day":2560,"c0dose":0.4},
      {"patient":2780,"day":40,"c0dose":1.0},{"patient":2780,"day":90,"c0dose":1.4},{"patient":2780,"day":140,"c0dose":0.8},{"patient":2780,"day":200,"c0dose":1.7},{"patient":2780,"day":260,"c0dose":0.4},{"patient":2780,"day":320,"c0dose":1.9},{"patient":2780,"day":380,"c0dose":2.4},{"patient":2780,"day":440,"c0dose":2.1},{"patient":2780,"day":520,"c0dose":1.8},{"patient":2780,"day":600,"c0dose":2.3},{"patient":2780,"day":680,"c0dose":2.0},{"patient":2780,"day":760,"c0dose":2.8},{"patient":2780,"day":820,"c0dose":2.2},{"patient":2780,"day":900,"c0dose":1.8},{"patient":2780,"day":980,"c0dose":2.0},{"patient":2780,"day":1060,"c0dose":1.6},{"patient":2780,"day":1140,"c0dose":2.2},{"patient":2780,"day":1200,"c0dose":2.8},{"patient":2780,"day":1260,"c0dose":2.1},{"patient":2780,"day":1340,"c0dose":1.6},
      {"patient":3000,"day":30,"c0dose":0.3},{"patient":3000,"day":100,"c0dose":0.5},{"patient":3000,"day":180,"c0dose":0.4},{"patient":3000,"day":260,"c0dose":0.6},{"patient":3000,"day":340,"c0dose":0.3},{"patient":3000,"day":420,"c0dose":0.5},{"patient":3000,"day":500,"c0dose":0.4},{"patient":3000,"day":580,"c0dose":0.6},{"patient":3000,"day":660,"c0dose":0.5},{"patient":3000,"day":740,"c0dose":0.8},{"patient":3000,"day":820,"c0dose":0.5},{"patient":3000,"day":900,"c0dose":0.4},{"patient":3000,"day":980,"c0dose":0.6},{"patient":3000,"day":1060,"c0dose":0.5},{"patient":3000,"day":1140,"c0dose":0.4},{"patient":3000,"day":1220,"c0dose":0.6},{"patient":3000,"day":1300,"c0dose":0.5},{"patient":3000,"day":1380,"c0dose":0.7},{"patient":3000,"day":1460,"c0dose":0.4},{"patient":3000,"day":1540,"c0dose":0.5},{"patient":3000,"day":1620,"c0dose":0.3},{"patient":3000,"day":1700,"c0dose":0.5},{"patient":3000,"day":1780,"c0dose":0.4},{"patient":3000,"day":1860,"c0dose":0.3},
      {"patient":3087,"day":30,"c0dose":0.2},{"patient":3087,"day":100,"c0dose":0.4},{"patient":3087,"day":170,"c0dose":0.3},{"patient":3087,"day":240,"c0dose":0.5},{"patient":3087,"day":310,"c0dose":0.3},{"patient":3087,"day":380,"c0dose":0.4},{"patient":3087,"day":450,"c0dose":0.5},{"patient":3087,"day":520,"c0dose":0.3},{"patient":3087,"day":590,"c0dose":0.4},{"patient":3087,"day":660,"c0dose":0.5},{"patient":3087,"day":730,"c0dose":0.3},{"patient":3087,"day":800,"c0dose":0.4},{"patient":3087,"day":870,"c0dose":0.5},{"patient":3087,"day":940,"c0dose":0.4},{"patient":3087,"day":1010,"c0dose":0.3},{"patient":3087,"day":1060,"c0dose":0.4},
      {"patient":3259,"day":50,"c0dose":1.3},{"patient":3259,"day":120,"c0dose":1.5},{"patient":3259,"day":190,"c0dose":1.4},{"patient":3259,"day":260,"c0dose":1.7},{"patient":3259,"day":330,"c0dose":1.5},{"patient":3259,"day":400,"c0dose":1.9},{"patient":3259,"day":470,"c0dose":1.6},{"patient":3259,"day":540,"c0dose":1.8},{"patient":3259,"day":610,"c0dose":1.4},{"patient":3259,"day":680,"c0dose":2.0},{"patient":3259,"day":740,"c0dose":2.2},{"patient":3259,"day":800,"c0dose":2.5},{"patient":3259,"day":860,"c0dose":2.1},{"patient":3259,"day":920,"c0dose":1.8},{"patient":3259,"day":980,"c0dose":1.4},
      {"patient":3706,"day":50,"c0dose":0.3},{"patient":3706,"day":120,"c0dose":0.5},{"patient":3706,"day":190,"c0dose":0.7},{"patient":3706,"day":260,"c0dose":0.4},{"patient":3706,"day":330,"c0dose":0.8},{"patient":3706,"day":400,"c0dose":0.6},{"patient":3706,"day":470,"c0dose":0.9},{"patient":3706,"day":540,"c0dose":0.7},{"patient":3706,"day":610,"c0dose":1.0},{"patient":3706,"day":680,"c0dose":0.8},{"patient":3706,"day":750,"c0dose":1.1},{"patient":3706,"day":820,"c0dose":0.9},{"patient":3706,"day":880,"c0dose":1.3},{"patient":3706,"day":940,"c0dose":1.2},{"patient":3706,"day":1000,"c0dose":1.0},{"patient":3706,"day":1050,"c0dose":1.2},
      {"patient":3936,"day":40,"c0dose":2.5},{"patient":3936,"day":60,"c0dose":4.3},{"patient":3936,"day":100,"c0dose":10.5},{"patient":3936,"day":110,"c0dose":3.2},{"patient":3936,"day":120,"c0dose":1.5},{"patient":3936,"day":150,"c0dose":5.5},{"patient":3936,"day":170,"c0dose":2.8},{"patient":3936,"day":290,"c0dose":9.9},{"patient":3936,"day":330,"c0dose":5.0},{"patient":3936,"day":230,"c0dose":2.1},{"patient":3936,"day":260,"c0dose":1.0},{"patient":3936,"day":300,"c0dose":3.6},{"patient":3936,"day":470,"c0dose":7.2},{"patient":3936,"day":380,"c0dose":2.4},{"patient":3936,"day":420,"c0dose":1.2},{"patient":3936,"day":470,"c0dose":3.0},{"patient":3936,"day":520,"c0dose":2.0},{"patient":3936,"day":570,"c0dose":0.8},{"patient":3936,"day":620,"c0dose":2.2},{"patient":3936,"day":680,"c0dose":1.5},{"patient":3936,"day":740,"c0dose":1.0},{"patient":3936,"day":800,"c0dose":2.0},{"patient":3936,"day":970,"c0dose":6.8},{"patient":3936,"day":950,"c0dose":1.2},{"patient":3936,"day":1020,"c0dose":0.7},{"patient":3936,"day":1100,"c0dose":1.0},{"patient":3936,"day":1180,"c0dose":0.6},{"patient":3936,"day":1260,"c0dose":0.9},{"patient":3936,"day":1340,"c0dose":0.7},{"patient":3936,"day":1420,"c0dose":0.8},{"patient":3936,"day":1500,"c0dose":0.6},{"patient":3936,"day":1580,"c0dose":0.9},{"patient":3936,"day":1660,"c0dose":0.7},{"patient":3936,"day":1740,"c0dose":0.8},{"patient":3936,"day":1800,"c0dose":0.6},{"patient":3936,"day":1860,"c0dose":0.7},
      {"patient":4262,"day":50,"c0dose":1.2},{"patient":4262,"day":90,"c0dose":0.6},{"patient":4262,"day":120,"c0dose":1.4},{"patient":4262,"day":160,"c0dose":0.9},{"patient":4262,"day":200,"c0dose":1.3},{"patient":4262,"day":230,"c0dose":0.5},{"patient":4262,"day":260,"c0dose":1.1},
      {"patient":4285,"day":40,"c0dose":0.3},{"patient":4285,"day":70,"c0dose":0.6},{"patient":4285,"day":100,"c0dose":0.9},{"patient":4285,"day":130,"c0dose":1.2},{"patient":4285,"day":150,"c0dose":0.7},{"patient":4285,"day":180,"c0dose":1.6},{"patient":4285,"day":200,"c0dose":2.0},{"patient":4285,"day":220,"c0dose":2.5},{"patient":4285,"day":240,"c0dose":1.4},{"patient":4285,"day":210,"c0dose":0.8},
      {"patient":4477,"day":30,"c0dose":0.8},{"patient":4477,"day":60,"c0dose":1.5},{"patient":4477,"day":90,"c0dose":1.0},{"patient":4477,"day":130,"c0dose":0.6},{"patient":4477,"day":180,"c0dose":1.2},{"patient":4477,"day":260,"c0dose":4.2},{"patient":4477,"day":300,"c0dose":0.9},{"patient":4477,"day":360,"c0dose":0.7},{"patient":4477,"day":420,"c0dose":0.8},{"patient":4477,"day":480,"c0dose":0.6},{"patient":4477,"day":540,"c0dose":0.7},{"patient":4477,"day":600,"c0dose":0.8},{"patient":4477,"day":660,"c0dose":0.6},{"patient":4477,"day":720,"c0dose":0.7},{"patient":4477,"day":780,"c0dose":0.6},{"patient":4477,"day":840,"c0dose":0.7},{"patient":4477,"day":900,"c0dose":0.8},{"patient":4477,"day":960,"c0dose":0.7},{"patient":4477,"day":1020,"c0dose":0.6},{"patient":4477,"day":1060,"c0dose":0.7},
      {"patient":4553,"day":50,"c0dose":3.6},{"patient":4553,"day":100,"c0dose":0.3},{"patient":4553,"day":180,"c0dose":0.1},{"patient":4553,"day":260,"c0dose":0.2},{"patient":4553,"day":340,"c0dose":0.1},{"patient":4553,"day":420,"c0dose":0.2},{"patient":4553,"day":500,"c0dose":0.1},{"patient":4553,"day":600,"c0dose":0.2},{"patient":4553,"day":700,"c0dose":0.1},{"patient":4553,"day":800,"c0dose":0.2},{"patient":4553,"day":900,"c0dose":0.1},{"patient":4553,"day":1000,"c0dose":0.2},{"patient":4553,"day":1100,"c0dose":0.1},{"patient":4553,"day":1200,"c0dose":0.2},{"patient":4553,"day":1300,"c0dose":0.1},{"patient":4553,"day":1400,"c0dose":0.2},{"patient":4553,"day":1500,"c0dose":0.1},{"patient":4553,"day":1600,"c0dose":0.2},{"patient":4553,"day":1700,"c0dose":0.1},{"patient":4553,"day":1800,"c0dose":0.2},{"patient":4553,"day":1900,"c0dose":0.1},{"patient":4553,"day":2000,"c0dose":0.2},{"patient":4553,"day":2100,"c0dose":0.3},{"patient":4553,"day":2200,"c0dose":0.2},{"patient":4553,"day":2270,"c0dose":0.9},{"patient":4553,"day":2400,"c0dose":0.2},{"patient":4553,"day":2500,"c0dose":0.3},{"patient":4553,"day":2600,"c0dose":0.1},{"patient":4553,"day":2700,"c0dose":0.2},{"patient":4553,"day":2800,"c0dose":0.3},{"patient":4553,"day":2880,"c0dose":0.6},{"patient":4553,"day":2920,"c0dose":1.0},{"patient":4553,"day":2980,"c0dose":0.3},{"patient":4553,"day":3170,"c0dose":0.2},
      {"patient":4787,"day":30,"c0dose":0.1},{"patient":4787,"day":90,"c0dose":0.2},{"patient":4787,"day":150,"c0dose":0.3},{"patient":4787,"day":210,"c0dose":0.1},{"patient":4787,"day":270,"c0dose":0.2},{"patient":4787,"day":330,"c0dose":0.3},{"patient":4787,"day":390,"c0dose":0.2},{"patient":4787,"day":450,"c0dose":0.1},{"patient":4787,"day":510,"c0dose":0.3},{"patient":4787,"day":570,"c0dose":0.2},{"patient":4787,"day":630,"c0dose":0.1},{"patient":4787,"day":690,"c0dose":0.2},{"patient":4787,"day":750,"c0dose":0.1},
      {"patient":5449,"day":50,"c0dose":1.2},{"patient":5449,"day":120,"c0dose":1.5},{"patient":5449,"day":190,"c0dose":1.4},{"patient":5449,"day":260,"c0dose":1.8},{"patient":5449,"day":330,"c0dose":2.2},{"patient":5449,"day":400,"c0dose":3.5},{"patient":5449,"day":450,"c0dose":2.5},{"patient":5449,"day":500,"c0dose":1.8},{"patient":5449,"day":560,"c0dose":3.6},{"patient":5449,"day":620,"c0dose":2.8},{"patient":5449,"day":680,"c0dose":3.5},{"patient":5449,"day":740,"c0dose":1.5},{"patient":5449,"day":800,"c0dose":3.3},{"patient":5449,"day":860,"c0dose":2.0},{"patient":5449,"day":920,"c0dose":3.6},{"patient":5449,"day":980,"c0dose":2.4},{"patient":5449,"day":1040,"c0dose":1.2},{"patient":5449,"day":1100,"c0dose":3.0},{"patient":5449,"day":1180,"c0dose":2.4},{"patient":5449,"day":1260,"c0dose":3.6},{"patient":5449,"day":1340,"c0dose":3.1},{"patient":5449,"day":1420,"c0dose":2.8},{"patient":5449,"day":1500,"c0dose":3.0},{"patient":5449,"day":1580,"c0dose":2.6},{"patient":5449,"day":1660,"c0dose":2.2},{"patient":5449,"day":1740,"c0dose":2.7},{"patient":5449,"day":1820,"c0dose":2.4},{"patient":5449,"day":1900,"c0dose":2.9},{"patient":5449,"day":1980,"c0dose":2.5},{"patient":5449,"day":2060,"c0dose":2.7},{"patient":5449,"day":2140,"c0dose":2.2},{"patient":5449,"day":2220,"c0dose":2.5},{"patient":5449,"day":2300,"c0dose":2.8},{"patient":5449,"day":2380,"c0dose":2.4},{"patient":5449,"day":2460,"c0dose":3.0},{"patient":5449,"day":2540,"c0dose":2.6},{"patient":5449,"day":2620,"c0dose":2.2},{"patient":5449,"day":2700,"c0dose":2.8},{"patient":5449,"day":2780,"c0dose":2.0},{"patient":5449,"day":2860,"c0dose":2.6},{"patient":5449,"day":2940,"c0dose":3.1},{"patient":5449,"day":3000,"c0dose":2.9},
      {"patient":5547,"day":30,"c0dose":1.7},{"patient":5547,"day":90,"c0dose":2.0},{"patient":5547,"day":150,"c0dose":1.8},{"patient":5547,"day":210,"c0dose":2.4},{"patient":5547,"day":270,"c0dose":2.7},{"patient":5547,"day":330,"c0dose":3.0},{"patient":5547,"day":390,"c0dose":3.5},{"patient":5547,"day":450,"c0dose":2.8},{"patient":5547,"day":510,"c0dose":3.8},{"patient":5547,"day":570,"c0dose":3.3},{"patient":5547,"day":630,"c0dose":3.5},{"patient":5547,"day":690,"c0dose":2.6},{"patient":5547,"day":750,"c0dose":3.2},{"patient":5547,"day":810,"c0dose":3.6},{"patient":5547,"day":870,"c0dose":2.9},{"patient":5547,"day":930,"c0dose":3.1},{"patient":5547,"day":990,"c0dose":3.4},{"patient":5547,"day":1050,"c0dose":3.8},{"patient":5547,"day":1110,"c0dose":4.0},{"patient":5547,"day":1170,"c0dose":3.5},{"patient":5547,"day":1230,"c0dose":2.6},{"patient":5547,"day":1290,"c0dose":1.8},{"patient":5547,"day":1350,"c0dose":1.2},{"patient":5547,"day":1410,"c0dose":0.8},{"patient":5547,"day":1470,"c0dose":1.0},{"patient":5547,"day":1530,"c0dose":1.8},{"patient":5547,"day":1590,"c0dose":2.3},{"patient":5547,"day":1650,"c0dose":2.6},{"patient":5547,"day":1710,"c0dose":2.4},{"patient":5547,"day":1770,"c0dose":2.7},{"patient":5547,"day":1830,"c0dose":2.5},{"patient":5547,"day":1890,"c0dose":2.3},{"patient":5547,"day":1950,"c0dose":2.6},{"patient":5547,"day":2010,"c0dose":2.4},{"patient":5547,"day":2070,"c0dose":2.2},{"patient":5547,"day":2130,"c0dose":2.6},{"patient":5547,"day":2190,"c0dose":3.5},{"patient":5547,"day":2250,"c0dose":2.2},{"patient":5547,"day":2310,"c0dose":2.5},{"patient":5547,"day":2370,"c0dose":2.1},{"patient":5547,"day":2430,"c0dose":2.2},
      {"patient":5588,"day":20,"c0dose":2.6},{"patient":5588,"day":70,"c0dose":3.8},{"patient":5588,"day":120,"c0dose":2.9},{"patient":5588,"day":170,"c0dose":3.5},{"patient":5588,"day":220,"c0dose":4.1},{"patient":5588,"day":270,"c0dose":3.2},{"patient":5588,"day":320,"c0dose":3.9},{"patient":5588,"day":370,"c0dose":2.7},{"patient":5588,"day":420,"c0dose":3.4},{"patient":5588,"day":470,"c0dose":2.6},{"patient":5588,"day":520,"c0dose":3.0},{"patient":5588,"day":570,"c0dose":2.2},{"patient":5588,"day":620,"c0dose":2.0},{"patient":5588,"day":680,"c0dose":1.6},{"patient":5588,"day":740,"c0dose":1.8},{"patient":5588,"day":800,"c0dose":1.4},{"patient":5588,"day":860,"c0dose":1.3},{"patient":5588,"day":920,"c0dose":1.6},{"patient":5588,"day":980,"c0dose":1.2},{"patient":5588,"day":1040,"c0dose":1.5},{"patient":5588,"day":1100,"c0dose":1.3},{"patient":5588,"day":1160,"c0dose":1.0},{"patient":5588,"day":1220,"c0dose":1.1},{"patient":5588,"day":1280,"c0dose":0.8},{"patient":5588,"day":1380,"c0dose":3.0},{"patient":5588,"day":1450,"c0dose":2.6},{"patient":5588,"day":1520,"c0dose":2.9},{"patient":5588,"day":1600,"c0dose":4.3},{"patient":5588,"day":1660,"c0dose":2.5},{"patient":5588,"day":1720,"c0dose":2.8},{"patient":5588,"day":1800,"c0dose":3.0},{"patient":5588,"day":1880,"c0dose":2.6},{"patient":5588,"day":1960,"c0dose":2.3},{"patient":5588,"day":2060,"c0dose":1.7},{"patient":5588,"day":2120,"c0dose":3.5},{"patient":5588,"day":2200,"c0dose":3.2},{"patient":5588,"day":2240,"c0dose":3.4},
      {"patient":5634,"day":20,"c0dose":1.2},{"patient":5634,"day":70,"c0dose":1.8},{"patient":5634,"day":120,"c0dose":1.0},{"patient":5634,"day":170,"c0dose":2.0},{"patient":5634,"day":220,"c0dose":1.5},{"patient":5634,"day":270,"c0dose":1.2},{"patient":5634,"day":320,"c0dose":2.1},{"patient":5634,"day":370,"c0dose":1.6},{"patient":5634,"day":420,"c0dose":1.3},{"patient":5634,"day":470,"c0dose":2.6},{"patient":5634,"day":520,"c0dose":1.8},{"patient":5634,"day":570,"c0dose":1.4},{"patient":5634,"day":620,"c0dose":1.9},{"patient":5634,"day":670,"c0dose":1.2},{"patient":5634,"day":720,"c0dose":1.6},{"patient":5634,"day":780,"c0dose":1.0},{"patient":5634,"day":840,"c0dose":1.3},{"patient":5634,"day":900,"c0dose":1.1},{"patient":5634,"day":960,"c0dose":0.9},{"patient":5634,"day":1020,"c0dose":1.0},{"patient":5634,"day":1080,"c0dose":0.8},{"patient":5634,"day":1140,"c0dose":1.0},{"patient":5634,"day":1200,"c0dose":0.9},{"patient":5634,"day":1260,"c0dose":1.1},{"patient":5634,"day":1320,"c0dose":0.8},{"patient":5634,"day":1380,"c0dose":1.0},{"patient":5634,"day":1440,"c0dose":0.9},{"patient":5634,"day":1500,"c0dose":0.8},{"patient":5634,"day":1560,"c0dose":1.0},{"patient":5634,"day":1620,"c0dose":0.9},{"patient":5634,"day":1680,"c0dose":1.2},{"patient":5634,"day":1740,"c0dose":0.8},{"patient":5634,"day":1800,"c0dose":2.0},{"patient":5634,"day":1850,"c0dose":1.4},{"patient":5634,"day":1900,"c0dose":0.9},{"patient":5634,"day":1950,"c0dose":0.7},
      {"patient":5739,"day":30,"c0dose":1.9},{"patient":5739,"day":80,"c0dose":2.3},{"patient":5739,"day":130,"c0dose":2.0},{"patient":5739,"day":180,"c0dose":2.6},{"patient":5739,"day":230,"c0dose":2.9},{"patient":5739,"day":280,"c0dose":3.2},{"patient":5739,"day":330,"c0dose":2.5},{"patient":5739,"day":380,"c0dose":2.7},{"patient":5739,"day":400,"c0dose":2.2},
      {"patient":5778,"day":20,"c0dose":0.6},{"patient":5778,"day":80,"c0dose":0.7},{"patient":5778,"day":140,"c0dose":0.5},{"patient":5778,"day":200,"c0dose":0.8},{"patient":5778,"day":260,"c0dose":0.6},{"patient":5778,"day":320,"c0dose":0.7},{"patient":5778,"day":380,"c0dose":0.4},{"patient":5778,"day":440,"c0dose":0.7},{"patient":5778,"day":500,"c0dose":0.6},{"patient":5778,"day":560,"c0dose":0.8},{"patient":5778,"day":620,"c0dose":0.5},{"patient":5778,"day":680,"c0dose":0.7},{"patient":5778,"day":740,"c0dose":0.6},{"patient":5778,"day":800,"c0dose":0.8},{"patient":5778,"day":860,"c0dose":0.6},{"patient":5778,"day":920,"c0dose":0.7},{"patient":5778,"day":980,"c0dose":0.5},{"patient":5778,"day":1040,"c0dose":0.8},{"patient":5778,"day":1100,"c0dose":0.7},{"patient":5778,"day":1140,"c0dose":0.6}
    ]
  },
  "hconcat": [
    {
      "width": 549,
      "height": 471,
      "title": {"text": "(A)", "anchor": "start", "frame": "group", "fontSize": 18, "fontWeight": "normal", "offset": 6},
      "layer": [
        {
          "data": {"name": "slowSparseA"},
          "mark": {"type": "circle", "size": 42, "opacity": 0.12},
          "encoding": {
            "x": {"field": "day", "type": "quantitative", "title": "Day", "scale": {"domain": [-236, 6486], "nice": false, "zero": false},
              "axis": {"values": [0,1000,2000,3000,4000,5000,6000], "format": "d", "labelExpr": "datum.value % 2000 === 0 ? datum.label : ''", "tickOpacity": {"condition": {"test": "datum.value % 2000 === 0", "value": 1}, "value": 0}, "gridColor": {"condition": {"test": "datum.value % 2000 === 0", "value": "#e6e6e6"}, "value": "#f2f2f2"}, "labelFontSize": 12, "titleFontSize": 17.5, "titlePadding": 4}},
            "y": {"field": "c0dose", "type": "quantitative", "title": "C0 / dose", "scale": {"domain": [-1.42, 31.52], "nice": false, "zero": false},
              "axis": {"values": [0,5,10,15,20,25,30], "format": "d", "labelExpr": "datum.value % 10 === 0 ? datum.label : ''", "tickOpacity": {"condition": {"test": "datum.value % 10 === 0", "value": 1}, "value": 0}, "gridColor": {"condition": {"test": "datum.value % 10 === 0", "value": "#e6e6e6"}, "value": "#f2f2f2"}, "labelFontSize": 12, "titleFontSize": 18.5, "titlePadding": 6}},
            "color": {"datum": "Slow", "scale": {"domain": ["Fast", "Slow"], "range": ["#4b8fcf", "#eea2b4"]},
              "legend": {"title": "Phenotype", "orient": "none", "legendX": 150, "legendY": 538, "direction": "horizontal", "titleOrient": "left", "symbolType": "stroke", "symbolSize": 480, "symbolStrokeWidth": 4, "symbolOpacity": 1, "labelOffset": 7, "columnPadding": 6, "titlePadding": 8}}
          }
        },
        {
          "data": {"name": "slowDenseA"},
          "mark": {"type": "circle", "size": 62, "opacity": 0.5},
          "encoding": {
            "x": {"field": "day", "type": "quantitative", "title": "Day", "scale": {"domain": [-236, 6486], "nice": false, "zero": false}},
            "y": {"field": "c0dose", "type": "quantitative", "title": "C0 / dose", "scale": {"domain": [-1.42, 31.52], "nice": false, "zero": false}},
            "color": {"datum": "Slow", "scale": {"domain": ["Fast", "Slow"], "range": ["#4b8fcf", "#eea2b4"]},
              "legend": {"title": "Phenotype", "orient": "none", "legendX": 150, "legendY": 538, "direction": "horizontal", "titleOrient": "left", "symbolType": "stroke", "symbolSize": 480, "symbolStrokeWidth": 4, "symbolOpacity": 1, "labelOffset": 7, "columnPadding": 6, "titlePadding": 8}}
          }
        },
        {
          "data": {"name": "fastSparseA"},
          "mark": {"type": "circle", "size": 42, "opacity": 0.12},
          "encoding": {
            "x": {"field": "day", "type": "quantitative", "title": "Day", "scale": {"domain": [-236, 6486], "nice": false, "zero": false}},
            "y": {"field": "c0dose", "type": "quantitative", "title": "C0 / dose", "scale": {"domain": [-1.42, 31.52], "nice": false, "zero": false}},
            "color": {"datum": "Fast", "scale": {"domain": ["Fast", "Slow"], "range": ["#4b8fcf", "#eea2b4"]},
              "legend": {"title": "Phenotype", "orient": "none", "legendX": 150, "legendY": 538, "direction": "horizontal", "titleOrient": "left", "symbolType": "stroke", "symbolSize": 480, "symbolStrokeWidth": 4, "symbolOpacity": 1, "labelOffset": 7, "columnPadding": 6, "titlePadding": 8}}
          }
        },
        {
          "data": {"name": "fastDenseA"},
          "mark": {"type": "circle", "size": 62, "opacity": 0.55},
          "encoding": {
            "x": {"field": "day", "type": "quantitative", "title": "Day", "scale": {"domain": [-236, 6486], "nice": false, "zero": false}},
            "y": {"field": "c0dose", "type": "quantitative", "title": "C0 / dose", "scale": {"domain": [-1.42, 31.52], "nice": false, "zero": false}},
            "color": {"datum": "Fast", "scale": {"domain": ["Fast", "Slow"], "range": ["#4b8fcf", "#eea2b4"]},
              "legend": {"title": "Phenotype", "orient": "none", "legendX": 150, "legendY": 538, "direction": "horizontal", "titleOrient": "left", "symbolType": "stroke", "symbolSize": 480, "symbolStrokeWidth": 4, "symbolOpacity": 1, "labelOffset": 7, "columnPadding": 6, "titlePadding": 8}}
          }
        },
        {
          "data": {"name": "smoothA"},
          "mark": {"type": "area", "color": "#999999", "opacity": 0.4},
          "encoding": {
            "x": {"field": "day", "type": "quantitative", "title": "Day", "scale": {"domain": [-236, 6486], "nice": false, "zero": false}},
            "y": {"field": "lo", "type": "quantitative", "title": "C0 / dose", "scale": {"domain": [-1.42, 31.52], "nice": false, "zero": false}},
            "y2": {"field": "hi"},
            "detail": {"field": "phenotype", "type": "nominal"}
          }
        },
        {
          "data": {"name": "smoothA"},
          "mark": {"type": "line", "strokeWidth": 4.5},
          "encoding": {
            "x": {"field": "day", "type": "quantitative", "title": "Day", "scale": {"domain": [-236, 6486], "nice": false, "zero": false}},
            "y": {"field": "fit", "type": "quantitative", "title": "C0 / dose", "scale": {"domain": [-1.42, 31.52], "nice": false, "zero": false}},
            "color": {"field": "phenotype", "type": "nominal", "scale": {"domain": ["Fast", "Slow"], "range": ["#4b8fcf", "#eea2b4"]},
              "legend": {"title": "Phenotype", "orient": "none", "legendX": 150, "legendY": 538, "direction": "horizontal", "titleOrient": "left", "symbolType": "stroke", "symbolSize": 480, "symbolStrokeWidth": 4, "symbolOpacity": 1, "labelOffset": 7, "columnPadding": 6, "titlePadding": 8}}
          }
        }
      ]
    },
    {
      "title": {"text": "C0 / dose", "orient": "left", "anchor": "middle", "frame": "bounds", "fontSize": 18.5, "fontWeight": "bold", "color": "#000000", "offset": 6},
      "spacing": 2.6,
      "vconcat": [
        {
          "spacing": -6,
          "vconcat": [
            {
              "title": {"text": "(B)", "anchor": "start", "frame": "group", "fontSize": 18, "fontWeight": "normal", "offset": 6},
              "data": {"name": "pointsB"},
              "transform": [{"filter": {"field": "patient", "oneOf": [415, 517, 652, 939, 1395]}}, {"aggregate": [{"op": "count", "as": "n"}], "groupby": ["patient"]}],
              "facet": {"column": {"field": "patient", "type": "ordinal", "header": null}},
              "spacing": 7,
              "spec": {"width": 103.5, "height": 24, "view": {"fill": "#d9d9d9", "stroke": "#6e6e6e"}, "mark": {"type": "text", "fontSize": 13, "color": "#1a1a1a"}, "encoding": {"text": {"field": "patient", "type": "nominal"}}}
            },
            {
              "data": {"name": "pointsB"},
              "transform": [{"filter": {"field": "patient", "oneOf": [415, 517, 652, 939, 1395]}}, {"lookup": "patient", "from": {"data": {"name": "phenotypes"}, "key": "patient", "fields": ["phenotype"]}}],
              "facet": {"column": {"field": "patient", "type": "ordinal", "header": null}},
              "spacing": 7,
              "spec": {
                "width": 103.5, "height": 63.4,
                "mark": {"type": "circle", "size": 34, "opacity": 1},
                "encoding": {
                  "x": {"field": "day", "type": "quantitative", "scale": {"domain": [-90, 3290], "nice": false, "zero": false}, "axis": {"title": null, "values": [0,500,1000,1500,2000,2500,3000], "labels": false, "ticks": false, "gridColor": {"condition": {"test": "datum.value % 1000 === 0", "value": "#e6e6e6"}, "value": "#f2f2f2"}}},
                  "y": {"field": "c0dose", "type": "quantitative", "scale": {"domain": [-0.6, 15.5], "nice": false, "zero": false}, "axis": {"title": null, "values": [0,2.5,5,7.5,10,12.5,15], "format": "d", "labelExpr": "datum.value % 5 === 0 ? datum.label : ''", "tickOpacity": {"condition": {"test": "datum.value % 5 === 0", "value": 1}, "value": 0}, "gridColor": {"condition": {"test": "datum.value % 5 === 0", "value": "#e6e6e6"}, "value": "#f2f2f2"}, "labelFontSize": 12.5}},
                  "color": {"field": "phenotype", "type": "nominal", "scale": {"domain": ["Fast", "Slow"], "range": ["#4b8fcf", "#eea2b4"]}, "legend": {"title": "Phenotype", "orient": "none", "legendX": 150, "legendY": 538, "direction": "horizontal", "titleOrient": "left", "symbolType": "circle", "symbolSize": 28, "symbolOpacity": 1, "labelOffset": 11, "columnPadding": 13, "titlePadding": 16}}
                }
              }
            }
          ]
        },
        {
          "spacing": -6,
          "vconcat": [
            {
              "data": {"name": "pointsB"},
              "transform": [{"filter": {"field": "patient", "oneOf": [2332, 2690, 2714, 2780, 3000]}}, {"aggregate": [{"op": "count", "as": "n"}], "groupby": ["patient"]}],
              "facet": {"column": {"field": "patient", "type": "ordinal", "header": null}},
              "spacing": 7,
              "spec": {"width": 103.5, "height": 24, "view": {"fill": "#d9d9d9", "stroke": "#6e6e6e"}, "mark": {"type": "text", "fontSize": 13, "color": "#1a1a1a"}, "encoding": {"text": {"field": "patient", "type": "nominal"}}}
            },
            {
              "data": {"name": "pointsB"},
              "transform": [{"filter": {"field": "patient", "oneOf": [2332, 2690, 2714, 2780, 3000]}}, {"lookup": "patient", "from": {"data": {"name": "phenotypes"}, "key": "patient", "fields": ["phenotype"]}}],
              "facet": {"column": {"field": "patient", "type": "ordinal", "header": null}},
              "spacing": 7,
              "spec": {
                "width": 103.5, "height": 63.4,
                "mark": {"type": "circle", "size": 34, "opacity": 1},
                "encoding": {
                  "x": {"field": "day", "type": "quantitative", "scale": {"domain": [-90, 3290], "nice": false, "zero": false}, "axis": {"title": null, "values": [0,500,1000,1500,2000,2500,3000], "labels": false, "ticks": false, "gridColor": {"condition": {"test": "datum.value % 1000 === 0", "value": "#e6e6e6"}, "value": "#f2f2f2"}}},
                  "y": {"field": "c0dose", "type": "quantitative", "scale": {"domain": [-0.6, 15.5], "nice": false, "zero": false}, "axis": {"title": null, "values": [0,2.5,5,7.5,10,12.5,15], "format": "d", "labelExpr": "datum.value % 5 === 0 ? datum.label : ''", "tickOpacity": {"condition": {"test": "datum.value % 5 === 0", "value": 1}, "value": 0}, "gridColor": {"condition": {"test": "datum.value % 5 === 0", "value": "#e6e6e6"}, "value": "#f2f2f2"}, "labelFontSize": 12.5}},
                  "color": {"field": "phenotype", "type": "nominal", "scale": {"domain": ["Fast", "Slow"], "range": ["#4b8fcf", "#eea2b4"]}, "legend": {"title": "Phenotype", "orient": "none", "legendX": 150, "legendY": 538, "direction": "horizontal", "titleOrient": "left", "symbolType": "circle", "symbolSize": 28, "symbolOpacity": 1, "labelOffset": 11, "columnPadding": 13, "titlePadding": 16}}
                }
              }
            }
          ]
        },
        {
          "spacing": -6,
          "vconcat": [
            {
              "data": {"name": "pointsB"},
              "transform": [{"filter": {"field": "patient", "oneOf": [3087, 3259, 3706, 3936, 4262]}}, {"aggregate": [{"op": "count", "as": "n"}], "groupby": ["patient"]}],
              "facet": {"column": {"field": "patient", "type": "ordinal", "header": null}},
              "spacing": 7,
              "spec": {"width": 103.5, "height": 24, "view": {"fill": "#d9d9d9", "stroke": "#6e6e6e"}, "mark": {"type": "text", "fontSize": 13, "color": "#1a1a1a"}, "encoding": {"text": {"field": "patient", "type": "nominal"}}}
            },
            {
              "data": {"name": "pointsB"},
              "transform": [{"filter": {"field": "patient", "oneOf": [3087, 3259, 3706, 3936, 4262]}}, {"lookup": "patient", "from": {"data": {"name": "phenotypes"}, "key": "patient", "fields": ["phenotype"]}}],
              "facet": {"column": {"field": "patient", "type": "ordinal", "header": null}},
              "spacing": 7,
              "spec": {
                "width": 103.5, "height": 63.4,
                "mark": {"type": "circle", "size": 34, "opacity": 1},
                "encoding": {
                  "x": {"field": "day", "type": "quantitative", "scale": {"domain": [-90, 3290], "nice": false, "zero": false}, "axis": {"title": null, "values": [0,500,1000,1500,2000,2500,3000], "labels": false, "ticks": false, "gridColor": {"condition": {"test": "datum.value % 1000 === 0", "value": "#e6e6e6"}, "value": "#f2f2f2"}}},
                  "y": {"field": "c0dose", "type": "quantitative", "scale": {"domain": [-0.6, 15.5], "nice": false, "zero": false}, "axis": {"title": null, "values": [0,2.5,5,7.5,10,12.5,15], "format": "d", "labelExpr": "datum.value % 5 === 0 ? datum.label : ''", "tickOpacity": {"condition": {"test": "datum.value % 5 === 0", "value": 1}, "value": 0}, "gridColor": {"condition": {"test": "datum.value % 5 === 0", "value": "#e6e6e6"}, "value": "#f2f2f2"}, "labelFontSize": 12.5}},
                  "color": {"field": "phenotype", "type": "nominal", "scale": {"domain": ["Fast", "Slow"], "range": ["#4b8fcf", "#eea2b4"]}, "legend": {"title": "Phenotype", "orient": "none", "legendX": 150, "legendY": 538, "direction": "horizontal", "titleOrient": "left", "symbolType": "circle", "symbolSize": 28, "symbolOpacity": 1, "labelOffset": 11, "columnPadding": 13, "titlePadding": 16}}
                }
              }
            }
          ]
        },
        {
          "spacing": -6,
          "vconcat": [
            {
              "data": {"name": "pointsB"},
              "transform": [{"filter": {"field": "patient", "oneOf": [4285, 4477, 4553, 4787, 5449]}}, {"aggregate": [{"op": "count", "as": "n"}], "groupby": ["patient"]}],
              "facet": {"column": {"field": "patient", "type": "ordinal", "header": null}},
              "spacing": 7,
              "spec": {"width": 103.5, "height": 24, "view": {"fill": "#d9d9d9", "stroke": "#6e6e6e"}, "mark": {"type": "text", "fontSize": 13, "color": "#1a1a1a"}, "encoding": {"text": {"field": "patient", "type": "nominal"}}}
            },
            {
              "data": {"name": "pointsB"},
              "transform": [{"filter": {"field": "patient", "oneOf": [4285, 4477, 4553, 4787, 5449]}}, {"lookup": "patient", "from": {"data": {"name": "phenotypes"}, "key": "patient", "fields": ["phenotype"]}}],
              "facet": {"column": {"field": "patient", "type": "ordinal", "header": null}},
              "spacing": 7,
              "spec": {
                "width": 103.5, "height": 63.4,
                "mark": {"type": "circle", "size": 34, "opacity": 1},
                "encoding": {
                  "x": {"field": "day", "type": "quantitative", "scale": {"domain": [-90, 3290], "nice": false, "zero": false}, "axis": {"title": null, "values": [0,500,1000,1500,2000,2500,3000], "labels": false, "ticks": false, "gridColor": {"condition": {"test": "datum.value % 1000 === 0", "value": "#e6e6e6"}, "value": "#f2f2f2"}}},
                  "y": {"field": "c0dose", "type": "quantitative", "scale": {"domain": [-0.6, 15.5], "nice": false, "zero": false}, "axis": {"title": null, "values": [0,2.5,5,7.5,10,12.5,15], "format": "d", "labelExpr": "datum.value % 5 === 0 ? datum.label : ''", "tickOpacity": {"condition": {"test": "datum.value % 5 === 0", "value": 1}, "value": 0}, "gridColor": {"condition": {"test": "datum.value % 5 === 0", "value": "#e6e6e6"}, "value": "#f2f2f2"}, "labelFontSize": 12.5}},
                  "color": {"field": "phenotype", "type": "nominal", "scale": {"domain": ["Fast", "Slow"], "range": ["#4b8fcf", "#eea2b4"]}, "legend": {"title": "Phenotype", "orient": "none", "legendX": 150, "legendY": 538, "direction": "horizontal", "titleOrient": "left", "symbolType": "circle", "symbolSize": 28, "symbolOpacity": 1, "labelOffset": 11, "columnPadding": 13, "titlePadding": 16}}
                }
              }
            }
          ]
        },
        {
          "spacing": -6,
          "vconcat": [
            {
              "data": {"name": "pointsB"},
              "transform": [{"filter": {"field": "patient", "oneOf": [5547, 5588, 5634, 5739, 5778]}}, {"aggregate": [{"op": "count", "as": "n"}], "groupby": ["patient"]}],
              "facet": {"column": {"field": "patient", "type": "ordinal", "header": null}},
              "spacing": 7,
              "spec": {"width": 103.5, "height": 24, "view": {"fill": "#d9d9d9", "stroke": "#6e6e6e"}, "mark": {"type": "text", "fontSize": 13, "color": "#1a1a1a"}, "encoding": {"text": {"field": "patient", "type": "nominal"}}}
            },
            {
              "data": {"name": "pointsB"},
              "transform": [{"filter": {"field": "patient", "oneOf": [5547, 5588, 5634, 5739, 5778]}}, {"lookup": "patient", "from": {"data": {"name": "phenotypes"}, "key": "patient", "fields": ["phenotype"]}}],
              "facet": {"column": {"field": "patient", "type": "ordinal", "header": {"title": "Day", "titleOrient": "bottom", "labels": false, "labelPadding": 0, "titleFontSize": 18, "titleFontWeight": "bold", "titleColor": "#000000", "titleFont": "Liberation Sans", "titlePadding": -10}}},
              "spacing": 7,
              "spec": {
                "width": 103.5, "height": 63.4,
                "mark": {"type": "circle", "size": 34, "opacity": 1},
                "encoding": {
                  "x": {"field": "day", "type": "quantitative", "scale": {"domain": [-90, 3290], "nice": false, "zero": false}, "axis": {"title": null, "values": [0,500,1000,1500,2000,2500,3000], "format": "d", "labelExpr": "datum.value % 1000 === 0 ? datum.label : ''", "tickOpacity": {"condition": {"test": "datum.value % 1000 === 0", "value": 1}, "value": 0}, "gridColor": {"condition": {"test": "datum.value % 1000 === 0", "value": "#e6e6e6"}, "value": "#f2f2f2"}, "labelFontSize": 12.5}},
                  "y": {"field": "c0dose", "type": "quantitative", "scale": {"domain": [-0.6, 15.5], "nice": false, "zero": false}, "axis": {"title": null, "values": [0,2.5,5,7.5,10,12.5,15], "format": "d", "labelExpr": "datum.value % 5 === 0 ? datum.label : ''", "tickOpacity": {"condition": {"test": "datum.value % 5 === 0", "value": 1}, "value": 0}, "gridColor": {"condition": {"test": "datum.value % 5 === 0", "value": "#e6e6e6"}, "value": "#f2f2f2"}, "labelFontSize": 12.5}},
                  "color": {"field": "phenotype", "type": "nominal", "scale": {"domain": ["Fast", "Slow"], "range": ["#4b8fcf", "#eea2b4"]}, "legend": {"title": "Phenotype", "orient": "none", "legendX": 150, "legendY": 538, "direction": "horizontal", "titleOrient": "left", "symbolType": "circle", "symbolSize": 28, "symbolOpacity": 1, "labelOffset": 11, "columnPadding": 13, "titlePadding": 16}}
                }
              }
            }
          ]
        }
      ]
    }
  ],
  "spacing": 10,
  "resolve": {"scale": {"color": "independent"}, "legend": {"color": "independent"}},
  "config": {
    "font": "Liberation Sans",
    "view": {"stroke": "#6e6e6e", "strokeWidth": 1},
    "axis": {"domain": false, "tickColor": "#4d4d4d", "tickSize": 4, "tickWidth": 1, "labelColor": "#4d4d4d", "labelPadding": 2, "titleColor": "#000000", "titleFontWeight": "bold", "labelOverlap": false, "labelFlush": false, "gridWidth": 1},
    "legend": {"titleFontWeight": "bold", "titleColor": "#000000", "labelColor": "#1a1a1a", "titleFontSize": 19, "labelFontSize": 15.5, "titleBaseline": "middle"},
    "title": {"color": "#000000"}
  }
}
